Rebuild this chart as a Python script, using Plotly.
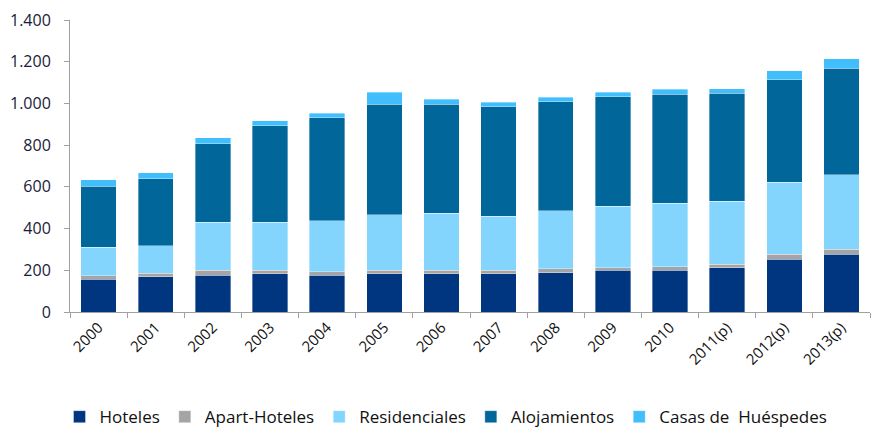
import plotly.graph_objects as go

years = ["2000", "2001", "2002", "2003", "2004", "2005", "2006", "2007",
         "2008", "2009", "2010", "2011(p)", "2012(p)", "2013(p)"]
hoteles = [157, 170, 176, 183, 176, 183, 183, 183, 189, 200, 200, 211, 253, 277]
apart_hoteles = [18, 17, 23, 16, 18, 17, 17, 17, 18, 13, 18, 18, 23, 24]
residenciales = [136, 130, 232, 232, 243, 266, 273, 260, 278, 295, 303, 303, 346, 356]
alojamientos = [291, 322, 375, 463, 494, 529, 522, 524, 523, 524, 522, 516, 492, 511]
casas = [31, 29, 30, 24, 22, 59, 24, 22, 22, 22, 24, 23, 43, 46]

series = [
    ("Hoteles", hoteles, "#00357F"),
    ("Apart-Hoteles", apart_hoteles, "#A5A5A5"),
    ("Residenciales", residenciales, "#84D5FD"),
    ("Alojamientos", alojamientos, "#01669A"),
    ("Casas de  Huéspedes", casas, "#41BEFC"),
]

fig = go.Figure()
for name, vals, color in series:
    fig.add_trace(go.Bar(
        x=years, y=vals, name=name,
        marker=dict(color=color, line=dict(color="rgba(255,255,255,0.6)", width=0.6)),
    ))

font_family = "Open Sans, Liberation Sans, sans-serif"
fig.update_layout(
    barmode="stack",
    bargap=0.38,
    width=873, height=427,
    margin=dict(l=70, r=3, t=20, b=115, autoexpand=False),
    paper_bgcolor="white", plot_bgcolor="white",
    separators=",.",
    font=dict(family=font_family, size=13, color="#222222"),
    showlegend=True,
    legend=dict(
        orientation="h", x=0.47, xanchor="center",
        y=-0.36, yanchor="middle",
        font=dict(size=17, color="#111111"),
        traceorder="normal", itemwidth=30,
    ),
    xaxis=dict(
        type="category", tickangle=-45, showline=True, linecolor="#A0A0A0",
        linewidth=1, ticks="outside", tickson="boundaries", ticklen=5,
        tickcolor="#A0A0A0", showgrid=False, automargin=False,
        tickfont=dict(size=15, color="#111111"),
    ),
    yaxis=dict(
        range=[0, 1400], dtick=200, tickformat=",d", showline=True,
        linecolor="#A0A0A0", linewidth=1, ticks="outside", ticklen=5,
        tickcolor="#A0A0A0", showgrid=False, zeroline=False, automargin=False,
        ticklabelstandoff=10,
        tickfont=dict(size=16, color="#1A1A3A"),
    ),
)

fig.write_html(
    "out.html",
    config={"displayModeBar": False},
    post_script="document.body.style.margin='0px';document.body.style.overflow='hidden';",
)
